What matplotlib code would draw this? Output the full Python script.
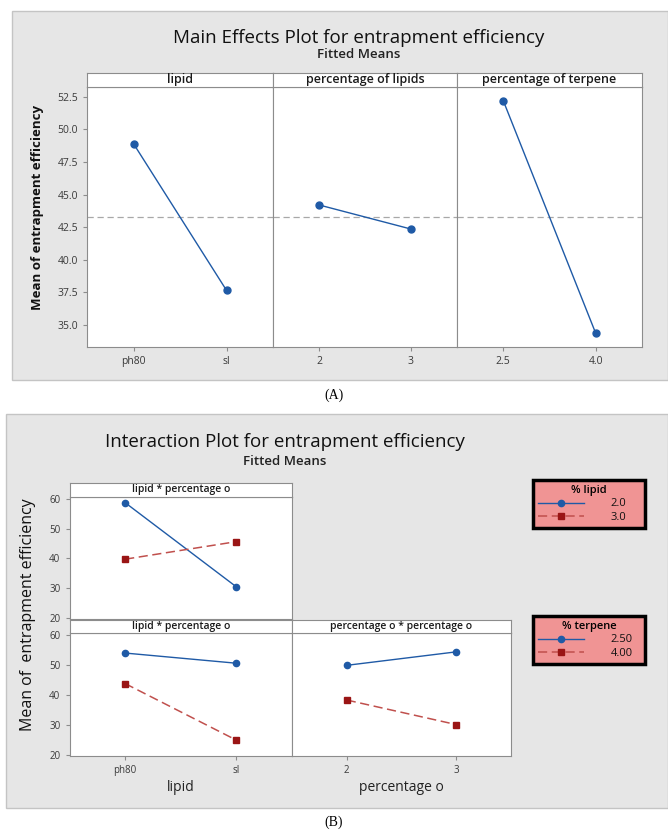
import matplotlib.pyplot as plt
from matplotlib.patches import Rectangle

plt.rcParams['font.family'] = ['Open Sans', 'DejaVu Sans']

W, H = 668, 835  # figure size in pixels

# ---- (A) main effects, fitted means ----
lipid_levels = ['ph80', 'sl']
lipid_means = [48.9, 37.65]
pct_lipid_levels = ['2', '3']
pct_lipid_means = [44.2, 42.35]
pct_terpene_levels = ['2.5', '4.0']
pct_terpene_means = [52.2, 34.35]
grand_mean = 43.25
main_titles = ['lipid', 'percentage of lipids', 'percentage of terpene']
main_yticks = [35.0, 37.5, 40.0, 42.5, 45.0, 47.5, 50.0, 52.5]

# ---- (B) interaction, fitted means ----
inter_lipid_levels = ['ph80', 'sl']
inter_pct_levels = ['2', '3']
# lipid * percentage of lipids, legend "% lipid"
lip_pl_2 = [58.7, 30.4]
lip_pl_3 = [39.7, 45.6]
# lipid * percentage of terpene, legend "% terpene"
lip_pt_250 = [54.0, 50.6]
lip_pt_400 = [43.8, 24.9]
# percentage of lipids * percentage of terpene
pl_pt_250 = [49.9, 54.4]
pl_pt_400 = [38.3, 30.1]
inter_yticks = [20, 30, 40, 50, 60]

BLUE = '#1f5aa6'
RED = '#9a1515'
RED_LINE = '#c0504d'
GRAY_BG = '#e6e6e6'
SPINE = '#8c8c8c'
TICKC = '#3a3a3a'


def box(l, t, r, b):
    return [l / W, 1 - b / H, (r - l) / W, (b - t) / H]


def bg_rect(fig, l, t, r, b):
    fig.add_artist(Rectangle((l / W, 1 - b / H), (r - l) / W, (b - t) / H,
                             transform=fig.transFigure, fc=GRAY_BG,
                             ec='#c4c4c4', lw=1, zorder=-5))


def strip(fig, l, t, r, b, label, size):
    ax = fig.add_axes(box(l, t, r, b))
    ax.set_xticks([])
    ax.set_yticks([])
    for s in ax.spines.values():
        s.set_color(SPINE)
    ax.text(0.5, 0.5, label, ha='center', va='center', fontsize=size,
            color='#1a1a1a', fontweight='semibold', transform=ax.transAxes)
    return ax


def style_axes(ax, yticks, ylim, show_y, tsize):
    ax.set_xlim(-0.5, 1.5)
    ax.set_ylim(*ylim)
    ax.set_yticks(yticks)
    for s in ax.spines.values():
        s.set_color(SPINE)
    ax.tick_params(colors=SPINE, labelcolor=TICKC, labelsize=tsize,
                   length=3, width=0.8)
    if not show_y:
        ax.tick_params(axis='y', left=False, labelleft=False)


fig = plt.figure(figsize=(W / 100, H / 100), dpi=100)
fig.patch.set_facecolor('white')

# ================= panel A =================
bg_rect(fig, 12, 11, 668, 380)
fig.text(359 / W, 1 - 38 / H, 'Main Effects Plot for entrapment efficiency',
         ha='center', va='center', fontsize=13.5, fontweight='medium',
         color='#111111')
fig.text(359 / W, 1 - 55 / H, 'Fitted Means', ha='center', va='center',
         fontsize=9.5, fontweight='semibold', color='#222222')

a_cols = [(87, 273), (273, 457), (457, 642)]
a_levels = [lipid_levels, pct_lipid_levels, pct_terpene_levels]
a_means = [lipid_means, pct_lipid_means, pct_terpene_means]
for i, ((l, r), lev, mns, ttl) in enumerate(zip(a_cols, a_levels, a_means, main_titles)):
    ax = fig.add_axes(box(l, 86.7, r, 347.3))
    ax.axhline(grand_mean, color='#a8a8a8', lw=0.9, ls=(0, (5, 3)), zorder=1)
    ax.plot(range(len(lev)), mns, color=BLUE, lw=1.0, marker='o', ms=5,
            mfc=BLUE, mec=BLUE, zorder=3)
    ax.set_xticks(range(len(lev)))
    ax.set_xticklabels(lev)
    style_axes(ax, main_yticks, (33.28, 53.27), i == 0, 7.5)
    if i == 0:
        ax.set_yticklabels([f'{v:.1f}' for v in main_yticks])
    strip(fig, l, 72.7, r, 86.7, ttl, 9)

fig.text(38 / W, 1 - 208 / H, 'Mean of entrapment efficiency', rotation=90,
         ha='center', va='center', fontsize=9.5, fontweight='bold',
         color='#111111')
fig.text(334 / W, 1 - 395 / H, '(A)', ha='center', va='center', fontsize=10,
         family='Liberation Serif')

# ================= panel B =================
bg_rect(fig, 6, 414, 668, 808)
fig.text(285 / W, 1 - 442 / H, 'Interaction Plot for entrapment efficiency',
         ha='center', va='center', fontsize=13.5, fontweight='medium',
         color='#111111')
fig.text(285 / W, 1 - 461 / H, 'Fitted Means', ha='center', va='center',
         fontsize=9.5, fontweight='semibold', color='#222222')

ylim_b = (19.6, 60.6)

# top-left: lipid * percentage of lipids
ax1 = fig.add_axes(box(69.5, 497, 292, 619))
h1, = ax1.plot(range(2), lip_pl_2, color=BLUE, lw=1.0, marker='o', ms=4.5)
h2, = ax1.plot(range(2), lip_pl_3, color=RED_LINE, lw=1.1, ls=(0, (6, 3)),
               marker='s', ms=4.5, mfc=RED, mec=RED)
ax1.set_xticks([])
style_axes(ax1, inter_yticks, ylim_b, True, 7)
strip(fig, 69.5, 483, 292, 497, 'lipid * percentage o', 7.5)

# bottom-left: lipid * percentage of terpene
ax2 = fig.add_axes(box(69.5, 633.3, 292, 756))
h3, = ax2.plot(range(2), lip_pt_250, color=BLUE, lw=1.0, marker='o', ms=4.5)
h4, = ax2.plot(range(2), lip_pt_400, color=RED_LINE, lw=1.1, ls=(0, (6, 3)),
               marker='s', ms=4.5, mfc=RED, mec=RED)
ax2.set_xticks(range(2))
ax2.set_xticklabels(inter_lipid_levels)
style_axes(ax2, inter_yticks, ylim_b, True, 7)
ax2.set_xlabel('lipid', fontsize=10, color='#222222', labelpad=3)
strip(fig, 69.5, 620, 292, 633.3, 'lipid * percentage o', 7.5)

# bottom-right: percentage of lipids * percentage of terpene
ax3 = fig.add_axes(box(292, 633.3, 511, 756))
ax3.plot(range(2), pl_pt_250, color=BLUE, lw=1.0, marker='o', ms=4.5)
ax3.plot(range(2), pl_pt_400, color=RED_LINE, lw=1.1, ls=(0, (6, 3)),
         marker='s', ms=4.5, mfc=RED, mec=RED)
ax3.set_xticks(range(2))
ax3.set_xticklabels(inter_pct_levels)
style_axes(ax3, inter_yticks, ylim_b, False, 7)
ax3.set_xlabel('percentage o', fontsize=10, color='#222222', labelpad=3)
strip(fig, 292, 620, 511, 633.3, 'percentage o * percentage o', 7.5)

fig.text(28 / W, 1 - 615 / H, 'Mean of  entrapment efficiency', rotation=90,
         ha='center', va='center', fontsize=11.5, color='#111111')

# legends
for handles, labels, title, top in [((h1, h2), ['2.0', '3.0'], '% lipid', 483),
                                    ((h3, h4), ['2.50', '4.00'], '% terpene', 619)]:
    leg = fig.legend(handles, labels, title=title, loc='upper left',
                     bbox_to_anchor=(527 / W, 1 - top / H, 124 / W, 0.01),
                     mode='expand', fontsize=8, title_fontsize=8,
                     handlelength=4.2, handletextpad=2.4, borderpad=0.45,
                     labelspacing=0.2, fancybox=False, framealpha=1,
                     facecolor='#f09494', edgecolor='black')
    leg.get_frame().set_linewidth(2.5)
    leg.get_title().set_fontweight('semibold')
    for t in leg.get_texts():
        t.set_color('#111111')

fig.text(334 / W, 1 - 822 / H, '(B)', ha='center', va='center', fontsize=10,
         family='Liberation Serif')

fig.savefig('out.png', dpi=100)
